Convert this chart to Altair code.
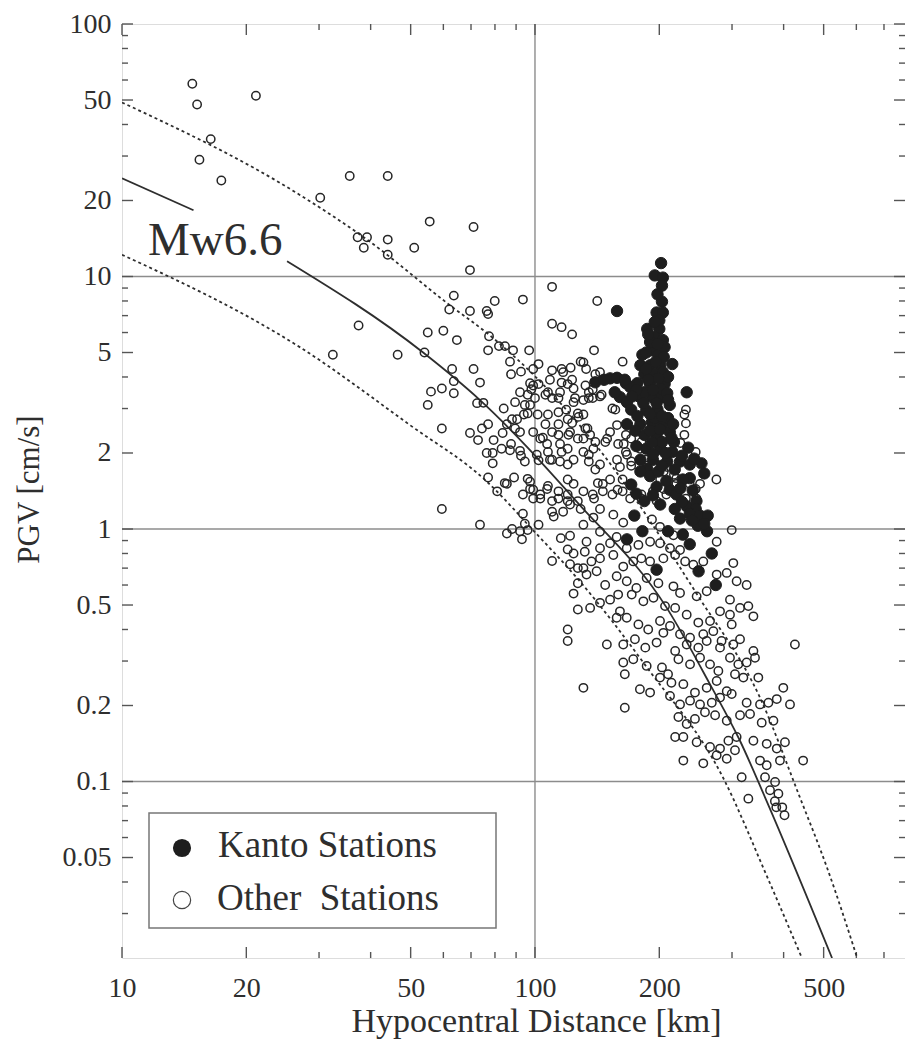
import altair as alt
import pandas as pd

FONT = "Liberation Serif"
INK = "#2e2e2e"

# ---------------- scatter data: (hypocentral distance km, PGV cm/s) ----------------
other_sparse = [(14.8,58),(15.2,48),(16.4,35),(15.4,29),(17.4,24),(21.1,52),(30.2,20.5),(35.6,25),(44,25),
    (37.2,14.3),(39.2,14.3),(38.5,13.0),(44,14.0),(44,12.2),(51,13.0),(55.6,16.5),(71,15.7),(69.6,10.6),
    (37.4,6.4),(32.4,4.9),(46.5,4.9),(54,5.0),(55,6.0),(60,6.1),(64.7,5.6),(63.6,8.4),(62,7.4),(69.6,7.3),
    (76.4,7.3),(77,7.1),(79.9,8.0),(93.5,8.1),(110,9.1),(59.5,1.2),(73.6,1.04)]

other_upper = [(77.4,5.8),(81.8,5.3),(84.6,5.3),(88.5,5.1),(77,5.1),(87,4.6),(96.8,5.1),(110,6.5),(116,6.3),
    (123,5.9),(63,4.3),(71,4.3),(87.5,4.1),(92.5,4.2),(102,4.5),(99,4.3),(110,4.25),(116,4.3),(122,4.35),
    (56,3.5),(59.5,3.6),(63.6,3.85),(63.6,3.45),(73.6,3.8),(55,3.1),(72.4,3.15),(75,3.16),(84,3.0),(59.5,2.5),
    (69.6,2.4),(74.4,2.5),(77,2.6),(72.8,2.25),(79.4,2.25),(83.5,2.4),(76.4,2.0),(79,2.0),(79,1.82),(87,2.05),
    (92.5,1.95),(89.5,2.5),(90.5,2.72),(94,2.84),(97.3,3.1),(96,3.4),(99,3.7),(102,3.75),(77,1.6),(84.5,1.52),
    (81,1.41),(96,1.58),(97.3,1.44),(93.5,1.37),(99,1.32)]

other_core = [(101.5,2.84),(107.5,2.84),(114,2.6),(106,2.6),(110,2.42),(103,2.28),(107,2.17),(115,2.17),
    (120,2.08),(124,1.88),(110,1.88),(102,1.87),(107.5,2.02),(115,1.85),(120,1.8),(107.5,1.48),(114,1.41),
    (120,1.57),(124,1.51),(103,1.32),(110,1.29),(120,1.29),(127,1.29),(117,4.18),(120,3.75),(124,3.6),
    (115,3.48),(114,3.3),(124,3.18),(127,2.87),(123,2.63),(119,2.97),(120.5,2.36),(127,2.28),(107.5,3.48),
    (110,3.3),(97.3,3.78),(108.7,3.9),(116,3.8),(123,3.9),(92,3.48),(98,3.58),(100,3.3),(106,3.4),(125,3.3),
    (89.5,3.18),(94.5,3.1),(96,2.87),(114,2.9),(120,2.72),(127.5,2.78),(88,2.72),(85.5,2.6),(92,2.42),
    (99,2.42),(104.5,2.3),(114,2.36),(121.6,2.42),(83,2.08),(87.5,2.17),(92,2.04),(94.5,1.85),(101,1.97),
    (108.7,1.88),(116,2.02),(85.5,1.51),(89,1.6),(97.3,1.54),(99,1.43),(103,1.37),(107,1.44),(114,1.32),
    (120,1.37),(85.5,0.96),(92,0.98),(94.5,1.05),(88,1.0),(102,1.04),(110,1.17),(117,1.17),(121.6,1.25),
    (115.5,0.92),(120,0.83),(110,0.747),(121.6,0.725),(127,0.61),(93,0.91),(96,0.99),(93.5,1.15),(111,1.12),
    (121.6,0.94),(124,0.8),(127,0.7),(124,0.555),(127,0.48),(120,0.4),(120,0.36)]

other_east = [(141.5,8.0),(139,5.1),(163,4.6),(131,4.57),(133,4.3),(140,4.1),(143.7,4.18),(132.5,3.7),
    (135,3.48),(138,3.3),(145,3.4),(131,3.24),(154,3.0),(156.5,2.97),(232,2.97),(230,2.84),(232,2.62),
    (131,2.84),(132.5,2.5),(136,2.36),(152,2.42),(148,2.21),(158,2.58),(166,2.36),(171,2.28),(181,2.21),
    (164,2.17),(230,2.36),(225,2.19),(131,2.02),(138.5,2.08),(135,1.85),(140,1.72),(160.6,1.76),(167,1.97),
    (171,1.78),(186,1.88),(209,1.76),(217,1.64),(245,2.02),(275,1.57),(142,1.52),(152,1.57),(163,1.57),
    (146,1.41),(158.5,1.43),(139,1.32),(170,1.32),(201,1.57),(205,1.44),(245,1.44),(246,1.32),(232,1.32),
    (197,1.29),(181,1.37),(129,4.6),(138,3.57),(143.7,3.35),(135,3.3),(134,2.5),(131,2.28),(140,2.21),
    (149.5,2.28),(159,2.17),(166,2.02),(179.6,2.08),(135,1.97),(143.7,1.8),(158,1.88),(171,1.85),(186,1.78),
    (205,1.69),(220,1.59),(237,1.51),(131,1.41),(138,1.37),(146,1.51),(154,1.37),(163,1.41),(181,1.32),
    (193,1.41),(208,1.37),(220,1.51),(251,1.51),(129,1.2),(143.7,1.2)]

other_lower = [(131,1.04),(138.5,1.11),(143.7,0.975),(154.8,1.14),(163.6,1.06),(192,1.09),(200.8,1.02),
    (216.4,0.945),(228.7,0.96),(299.5,0.99),(133.3,0.89),(132,0.813),(143.7,0.839),(152,0.878),(157.7,0.93),
    (166.8,0.839),(178,0.865),(190,0.89),(200.8,0.878),(212.3,0.839),(224.5,0.826),(275.4,0.89),(131,0.70),
    (137,0.744),(143.7,0.765),(154.8,0.789),(163.6,0.71),(173,0.744),(181,0.765),(190,0.744),(204.6,0.765),
    (218.5,0.789),(231,0.744),(241.8,0.722),(255.6,0.744),(302.2,0.733),(133.3,0.66),(141,0.68),(147.9,0.60),
    (157.7,0.65),(166.8,0.621),(176,0.584),(186.4,0.64),(199,0.61),(216.4,0.593),(224.5,0.558),(246.3,0.541),
    (260.5,0.567),(275.4,0.66),(291.3,0.67),(307.8,0.621),(325.5,0.60),(136,0.487),(143.7,0.51),(152,0.525),
    (159,0.55),(160.6,0.472),(171.5,0.55),(183,0.517),(193.6,0.534),(206.5,0.495),(218.5,0.487),(233,0.458),
    (248.6,0.426),(265.4,0.432),(280.6,0.472),(296.6,0.525),(313.7,0.487),(328.6,0.495),(338,0.451),
    (157.7,0.445),(166.8,0.445),(178,0.419),(188,0.40),(200.8,0.432),(212.3,0.413),(224.5,0.383),(237.4,0.371),
    (255.6,0.383),(270.3,0.394),(283,0.36),(299.5,0.419),(296.6,0.458),(149.3,0.349),(163.6,0.349),
    (174.6,0.366),(185,0.339),(197,0.355),(204.6,0.388),(218.5,0.329),(233,0.349),(248.6,0.339),(260.5,0.36),
    (280.6,0.339),(302.2,0.349),(313.7,0.366),(338,0.329),(426,0.349),(163.6,0.296),(173,0.305),(165,0.266),
    (186.4,0.287),(203,0.283),(210,0.266),(222.5,0.305),(237.4,0.291),(251,0.309),(265.4,0.291),(278,0.274),
    (296.6,0.309),(310.7,0.291),(325.5,0.296),(341,0.309),(131,0.235),(179.5,0.232),(190,0.225),(200.8,0.258),
    (214,0.246),(228.7,0.243),(244,0.225),(260.5,0.235),(275.4,0.25),(291.3,0.228),(305,0.266),(319.6,0.258),
    (347.4,0.258),(399.3,0.235),(165,0.196),(212.3,0.218),(224.5,0.202),(237.4,0.209),(251,0.202),(268,0.205),
    (280.6,0.215),(299.5,0.222),(325.5,0.205),(350.7,0.202),(367.5,0.205),(385,0.212),(414.5,0.202),
    (222.5,0.180),(233,0.169),(244,0.177),(258,0.188),(273,0.183),(291.3,0.174),(313.7,0.183),(331.7,0.185),
    (354,0.171),(377.9,0.174),(218.5,0.150),(228.7,0.150),(246.3,0.143),(265.4,0.137),(280.6,0.135),
    (294,0.145),(307.8,0.150),(338,0.145),(364,0.141),(385,0.135),(403,0.143),(228.7,0.121),(255.6,0.118),
    (275.4,0.127),(291.3,0.123),(305,0.133),(350.7,0.121),(364,0.116),(391.9,0.121),(446,0.121),
    (316.6,0.104),(360.6,0.104),(381.4,0.0995),(370.8,0.0923),(388.5,0.0895),(328.6,0.0855),
    (381,0.0835),(384,0.079),(397,0.079),(402,0.0735)]

kanto = [(202,11.3),(195,10.1),(204,9.9),(203,9.2),(203,7.95),(197,7.2),(204,7.2),(187,6.2),(200,6.2),
    (195,5.75),(204,5.6),(158,7.3),(182,4.9),(192,5.1),(199,4.9),(180,4.45),(190,4.45),(201,4.45),(215,4.5),
    (184,4.1),(195,4.1),(204,4.18),(152,3.95),(158,3.97),(166,3.78),(177,3.78),(190,3.75),(206,3.75),
    (140,3.81),(233,3.48),(160.6,3.33),(167,3.18),(179.6,3.33),(192,3.33),(203,3.33),(212,3.1),(171,2.97),
    (186,2.95),(198,2.97),(167,2.6),(180,2.6),(192,2.65),(204,2.6),(212,2.42),(184,2.36),(197,2.33),
    (186,2.08),(201,2.08),(215,2.02),(235,2.1),(180,1.88),(193,1.88),(209,1.85),(224.5,1.85),(237,1.8),
    (253,1.82),(257,1.66),(237,1.59),(187,1.73),(190,1.62),(212,1.43),(220,1.37),(176,1.38),(184,1.29),
    (201,1.25),(233,1.23),(246,1.29),(245,1.2),(174,1.13),(182,0.98),(210,0.98),(167,0.91),(224.5,1.1),
    (237,1.15),(251,1.13),(262,1.13),(248,1.03),(261,0.98),(237,0.87),(268,0.8),(197,0.69),(249,0.68),
    (274,0.6),(190,5.5),(206,5.25),(184,3.48),(201,3.6),(195,2.75),(210,2.75),(190,2.45),(176,2.13),
    (203,2.21),(217,2.21),(199,1.69),(228,1.57),(180,1.69),(170,3.65),(156,3.48)]

kanto_core = [(188,5.9),(198,5.4),(186,5.0),(205,4.8),(196,4.6),(186,4.3),(210,4.0),(199,3.95),(188,3.9),
    (176,3.55),(193,3.55),(209,3.45),(183,3.15),(197,3.15),(210,3.25),(177,2.8),(190,2.85),(203,2.8),
    (216,2.6),(175,2.45),(201,2.48),(214,2.3),(192,2.2),(207,2.0),(193,1.98),(227,1.95),(243,1.9),
    (203,1.78),(218,1.72),(171,1.5),(197,1.47),(208,1.55),(225,1.45),(241,1.42),(193,1.36),(227,1.28),
    (218,1.2),(240,1.08),(257,1.05),(228,0.95),(172,3.35),(165,3.9),(147,3.9),(198,8.5),(200,6.7),(195,6.6)]

# ---------------- regression curves ----------------
median_a_dist = [10, 14.9]
median_a_pgv = [24.5, 18.3]
median_b_dist = [25.1, 53.6, 73.6, 126.3, 208.7, 265, 313.6, 360.6, 524]
median_b_pgv = [11.5, 5.0, 3.24, 1.28, 0.486, 0.2436, 0.145, 0.0866, 0.02]
upper_dist = [10, 27, 39.2, 62.2, 77.8, 98.9, 143, 247, 351, 438, 509, 603]
upper_pgv = [48.9, 21, 14.0, 7.7, 5.84, 4.1, 2.07, 0.55, 0.214, 0.0865, 0.0458, 0.02]
lower_dist = [10, 27, 49.8, 76.5, 98.9, 128.5, 187, 285, 365, 443]
lower_pgv = [12.2, 5.24, 2.58, 1.54, 0.99, 0.62, 0.282, 0.104, 0.0419, 0.02]

# ---------------- axes ----------------
x_major = [10, 20, 50, 100, 200, 500]
x_minor = [30, 40, 60, 70, 80, 90, 300, 400, 600, 700]
y_major = [100, 50, 20, 10, 5, 2, 1, 0.5, 0.2, 0.1, 0.05]
y_minor = [90, 80, 70, 60, 40, 30, 9, 8, 7, 6, 4, 3, 0.9, 0.8, 0.7, 0.6, 0.4, 0.3,
           0.09, 0.08, 0.07, 0.06, 0.04, 0.03]
x_grid = [100]
y_grid = [10, 1, 0.1]

label_text = ["Mw6.6"]
label_dist = [11.56]
label_pgv = [12.2]
legend_labels = ["Kanto Stations", "Other\u00a0\u00a0Stations"]

W, H = 783, 934
xscale = alt.Scale(type="log", domain=[10, 787], nice=False, zero=False)
yscale = alt.Scale(type="log", domain=[0.02, 100], nice=False, zero=False)

xaxis = alt.Axis(values=x_major, format="~g", title="Hypocentral Distance [km]", tickSize=0,
                 domain=False, grid=False, labelFont=FONT, labelFontSize=28, labelColor=INK,
                 labelPadding=16, labelFlush=False, labelOverlap=False, titleFont=FONT,
                 titleFontSize=34, titleFontWeight="normal", titleColor=INK, titleX=414, titleY=73,
                 titleBaseline="alphabetic", titleAlign="center")
yaxis = alt.Axis(values=y_major, format="~g", title="PGV [cm/s]", tickSize=0, domain=False,
                 grid=False, labelFont=FONT, labelFontSize=28, labelColor=INK, labelPadding=11,
                 labelBaseline="middle", labelOverlap=False, titleFont=FONT, titleFontSize=31,
                 titleFontWeight="normal", titleColor=INK, titleX=-84, titleY=465,
                 titleBaseline="alphabetic", titleAlign="center")

X = lambda: alt.X("dist:Q", scale=xscale, axis=xaxis)
Y = lambda: alt.Y("pgv:Q", scale=yscale, axis=yaxis)

def df_pts(pairs):
    return pd.DataFrame({"dist": [p[0] for p in pairs], "pgv": [p[1] for p in pairs]})

others = other_sparse + other_upper + other_core + other_east + other_lower

grid_h = alt.Chart(pd.DataFrame({"pgv": y_grid})).mark_rule(color="#8c8c8c", strokeWidth=1.4).encode(y=Y())
grid_v = alt.Chart(pd.DataFrame({"dist": x_grid})).mark_rule(color="#8c8c8c", strokeWidth=1.4).encode(x=X())

TC = "#555555"
def yticks(vals, length):
    d = pd.DataFrame({"pgv": vals})
    left = alt.Chart(d).mark_rule(color=TC, strokeWidth=1.4).encode(y=Y(), x=alt.value(0), x2=alt.value(length))
    right = alt.Chart(d).mark_rule(color=TC, strokeWidth=1.4).encode(y=Y(), x=alt.value(W - length), x2=alt.value(W))
    return [left, right]

def xticks(vals, length):
    d = pd.DataFrame({"dist": vals})
    bottom = alt.Chart(d).mark_rule(color=TC, strokeWidth=1.4).encode(x=X(), y=alt.value(H - length), y2=alt.value(H))
    top = alt.Chart(d).mark_rule(color=TC, strokeWidth=1.4).encode(x=X(), y=alt.value(0), y2=alt.value(length))
    return [bottom, top]

solid_df = pd.DataFrame({
    "dist": median_a_dist + median_b_dist,
    "pgv": median_a_pgv + median_b_pgv,
    "seg": ["a"] * len(median_a_dist) + ["b"] * len(median_b_dist),
})
dash_df = pd.DataFrame({
    "dist": upper_dist + lower_dist,
    "pgv": upper_pgv + lower_pgv,
    "seg": ["upper"] * len(upper_dist) + ["lower"] * len(lower_dist),
})
solid = alt.Chart(solid_df).mark_line(color=INK, strokeWidth=1.8, clip=True, interpolate="monotone").encode(
    x=X(), y=Y(), detail="seg:N")
dashed = alt.Chart(dash_df).mark_line(color=INK, strokeWidth=1.8, strokeDash=[3, 3], clip=True,
                                      interpolate="monotone").encode(x=X(), y=Y(), detail="seg:N")

other_pts = alt.Chart(df_pts(others)).mark_point(shape="circle", filled=False, size=70, color="#262626",
                                                  strokeWidth=1.5, opacity=1).encode(x=X(), y=Y())
kanto_pts = alt.Chart(df_pts(kanto + kanto_core)).mark_point(shape="circle", filled=True, size=130,
                                                              color="#1e1e1e", stroke="#1e1e1e",
                                                              strokeWidth=1, opacity=1).encode(x=X(), y=Y())

mw = alt.Chart(pd.DataFrame({"dist": label_dist, "pgv": label_pgv, "label": label_text})).mark_text(
    font=FONT, fontSize=47, align="left", baseline="alphabetic", color=INK).encode(x=X(), y=Y(), text="label:N")

one = pd.DataFrame({"k": [0]})
leg_box = alt.Chart(one).mark_rect(fill="white", stroke="#777777", strokeWidth=1.5).encode(
    x=alt.value(27), x2=alt.value(374), y=alt.value(789), y2=alt.value(904))
leg_k_sym = alt.Chart(one).mark_point(shape="circle", filled=True, size=330, color="#1e1e1e", opacity=1).encode(
    x=alt.value(60), y=alt.value(824))
leg_o_sym = alt.Chart(one).mark_point(shape="circle", filled=False, size=300, color="#444444",
                                       strokeWidth=1.2, opacity=1).encode(x=alt.value(60), y=alt.value(876))
leg_k_txt = alt.Chart(one).mark_text(font=FONT, fontSize=37, align="left", baseline="alphabetic",
                                      color=INK).encode(x=alt.value(96), y=alt.value(833),
                                                        text=alt.value(legend_labels[0]))
leg_o_txt = alt.Chart(one).mark_text(font=FONT, fontSize=37, align="left", baseline="alphabetic",
                                      color=INK).encode(x=alt.value(95), y=alt.value(886),
                                                        text=alt.value(legend_labels[1]))

layers = [grid_h, grid_v] + yticks(y_major, 11) + yticks(y_minor, 6) + xticks(x_major, 11) + \
    xticks(x_minor, 6) + [dashed, solid, other_pts, kanto_pts, mw, leg_box, leg_k_sym, leg_o_sym,
                          leg_k_txt, leg_o_txt]

chart = alt.layer(*layers).properties(
    width=W, height=H,
    padding={"left": 114, "top": 16, "right": 0, "bottom": 82},
    autosize=alt.AutoSizeParams(type="none"),
).configure_view(stroke="#444444", strokeWidth=2).configure(background="white")

chart.save("out.html", embed_options={"renderer": "svg", "actions": False})
